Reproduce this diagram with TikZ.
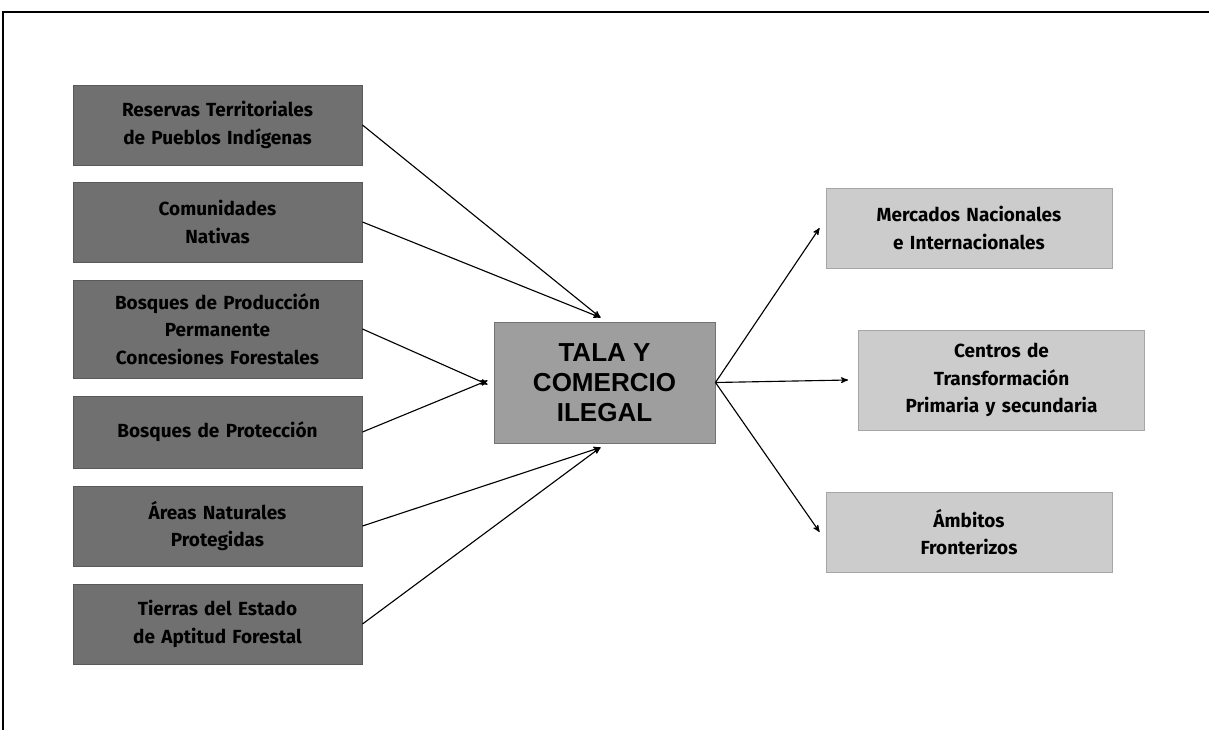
\documentclass[tikz,border=0pt]{standalone}
\usepackage{fontspec}
\setmainfont{Fira Sans}
\newfontfamily\titulo{Liberation Sans}
\usetikzlibrary{positioning,arrows}

\definecolor{darkbox}{RGB}{112,112,112}
\definecolor{midbox}{RGB}{158,158,158}
\definecolor{lightbox}{RGB}{204,204,204}

\begin{document}
\begin{tikzpicture}[->,>=stealth',thick,x=0.025cm,y=-0.025cm,
  origen/.style={rectangle,fill=darkbox,draw=black!65,line width=0.6pt,minimum width=7.225cm,minimum height=2cm,text width=6.8cm,align=center,font=\fontsize{13.5}{19.5}\selectfont\bfseries,inner sep=0pt},
  destino/.style={rectangle,fill=lightbox,draw=black!35,line width=0.6pt,minimum width=7.15cm,minimum height=2cm,text width=6.8cm,align=center,font=\fontsize{13.5}{19.5}\selectfont\bfseries,inner sep=0pt},
  centro/.style={rectangle,fill=midbox,draw=black!55,line width=0.6pt,minimum width=5.525cm,minimum height=3.025cm,align=center,font=\titulo\bfseries\fontsize{18.5}{21.5}\selectfont,inner sep=0pt}]

    % The frame
	\useasboundingbox (0,0) rectangle (1209,730);
	\draw[-,line width=1pt] (3,730) -- (3,12) -- (1209,12);

    % The sources
	\node [origen] at (217.5,125) (res) {Reservas Territoriales\\de Pueblos Indígenas};
	\node [origen] at (217.5,222) (com) {Comunidades\\Nativas};
	\node [origen,minimum height=2.45cm] at (217.5,329) (bpp) {Bosques de Producción\\Permanente\\Concesiones Forestales};
	\node [origen,minimum height=1.8cm] at (217.5,432) (bpr) {Bosques de Protección};
	\node [origen] at (217.5,526) (anp) {Áreas Naturales\\Protegidas};
	\node [origen] at (217.5,624) (tea) {Tierras del Estado\\de Aptitud Forestal};

    % The centre
	\node [centro] at (604.5,382.5) (tala) {TALA Y\\COMERCIO\\ILEGAL};

    % The destinations
	\node [destino] at (969,228) (mer) {Mercados Nacionales\\e Internacionales};
	\node [destino,minimum height=2.5cm] at (1001.5,380) (cen) {Centros de\\Transformación\\Primaria y secundaria};
	\node [destino] at (969,532) (amb) {Ámbitos\\Fronterizos};

	% Graph edges
	\path[->,line width=0.8pt]
	(res.east) edge ([xshift=-0.1cm,yshift=0.1cm]tala.north)
	(com.east) edge ([xshift=-0.1cm,yshift=0.1cm]tala.north)
	(bpp.east) edge ([xshift=-0.15cm,yshift=-0.05cm]tala.west)
	(bpr.east) edge ([xshift=-0.15cm,yshift=0.05cm]tala.west)
	(anp.east) edge ([xshift=-0.1cm,yshift=-0.1cm]tala.south)
	(tea.east) edge ([xshift=-0.1cm,yshift=-0.1cm]tala.south);

	\path[->,line width=0.8pt]
	(tala.east) edge ([xshift=-0.15cm]mer.west)
	(tala.east) edge ([xshift=-0.25cm]cen.west)
	(tala.east) edge ([xshift=-0.15cm]amb.west);

\end{tikzpicture}
\end{document}
